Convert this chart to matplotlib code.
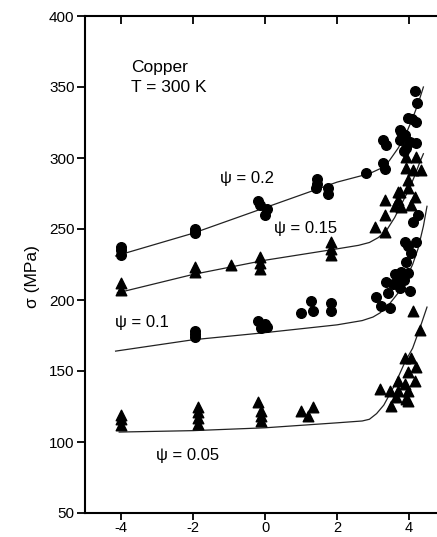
import numpy as np
import matplotlib
matplotlib.use('Agg')
import matplotlib.pyplot as plt

plt.rcParams['font.family'] = ['Liberation Sans', 'DejaVu Sans']
plt.rcParams['axes.unicode_minus'] = False

# ---- measured points (x = log strain rate axis, y = flow stress in MPa)
# psi = 0.2, circles
x_02 = [-4.0, -4.0, -4.0, -1.95, -1.95, -1.95, -0.2, -0.15, 0.05, 0.0,
        1.45, 1.45, 1.42, 1.75, 1.75, 2.8, 3.28, 3.32, 3.28, 3.36,
        3.74, 3.78, 3.88, 4.02, 4.2, 3.92, 3.85, 3.97, 4.2, 4.08, 4.22, 4.16, 3.75]
y_02 = [237, 235, 232, 250, 248, 247, 270, 267, 264, 260,
        285, 282, 279, 279, 275, 289.6, 296.6, 292.5, 312.8, 309,
        312.8, 318.6, 316, 311.6, 310.7, 307, 305, 328, 325.7, 327.5, 338.8, 347, 320]

# psi = 0.15, triangles
x_015 = [-4.0, -4.0, -1.95, -1.95, -0.94, -0.14, -0.14, -0.14, 1.83, 1.83, 1.83,
         3.05, 3.33, 3.33, 3.33, 3.7, 3.7, 3.75, 3.78, 3.6,
         3.92, 4.2, 3.92, 4.1, 4.33, 3.97, 3.97, 4.17, 4.06]
y_015 = [212, 207, 223.5, 220, 225, 230, 226, 222, 241, 236, 232,
         251.6, 248, 260, 270.7, 276, 270.6, 276, 265.7, 266,
         300.8, 300.8, 293, 291.7, 291.7, 284.6, 279, 272.7, 267]

# psi = 0.1, circles
x_01 = [-1.95, -1.95, -1.95, -0.2, 0.0, -0.1, 0.05,
        1.0, 1.28, 1.33, 1.83, 1.83,
        3.08, 3.22, 3.46, 3.42, 3.36, 3.56, 3.74, 4.02, 3.7, 3.78, 3.97,
        3.92, 4.06, 3.97, 3.88, 4.2, 4.11, 4.25, 3.85, 3.6]
y_01 = [178, 176, 174, 185, 183, 180, 181,
        191, 199, 192, 198, 192,
        202, 195.6, 194.6, 205, 213, 211, 208.7, 206, 215.7, 220, 219,
        227, 233, 238, 241, 241, 255, 260, 214, 218]

# psi = 0.05, triangles
x_005 = [-4.0, -4.0, -4.0, -1.86, -1.86, -1.86, -1.86, -0.2, -0.1, -0.1, -0.1,
         1.0, 1.33, 1.19,
         3.2, 3.46, 3.7, 3.97, 3.65, 3.92, 3.5, 3.97, 3.7, 4.16, 3.88,
         3.97, 4.2, 3.88, 4.06, 4.3, 4.11]
y_005 = [119, 116, 112, 125, 121, 117, 113, 128, 122, 118, 114.5,
         121.5, 124.3, 118,
         137, 135.8, 135.8, 135.8, 131.4, 130, 125.3, 128.8, 142.8, 142.8, 140.5,
         149.6, 152.5, 159.5, 159.5, 179, 192]

# ---- model curves
cx_02 = [-4.15, -2, 0, 1, 2, 2.6, 2.9, 3.2, 3.45, 3.7, 3.9, 4.1, 4.25, 4.4]
cy_02 = [231, 247, 265, 274, 283, 287, 289, 292.5, 298, 307, 316, 328, 338, 350]
cx_015 = [-4.1, -2, 0, 2, 2.6, 2.9, 3.15, 3.4, 3.6, 3.8, 4.0, 4.15, 4.3, 4.4]
cy_015 = [205, 218, 228, 236, 238.5, 240.5, 244, 250, 258, 268, 278, 287, 297, 303]
cx_01 = [-4.15, -2, 0, 2, 2.7, 3.0, 3.2, 3.45, 3.7, 3.9, 4.1, 4.25, 4.4, 4.5]
cy_01 = [164, 172, 177, 182.5, 185.5, 188, 191, 197, 205, 214, 225, 236, 252, 266]
cx_005 = [-4.05, -2, 0, 2, 2.7, 2.9, 3.1, 3.3, 3.6, 3.9, 4.1, 4.3, 4.5]
cy_005 = [107, 108, 110, 113.5, 114.8, 116, 120, 126, 140, 157, 166, 180, 195]

fig = plt.figure(figsize=(4.37, 5.37), dpi=100)
ax = fig.add_axes([85/437, 24/537, 360/437, 497/537])

for cx, cy in [(cx_02, cy_02), (cx_015, cy_015), (cx_01, cy_01), (cx_005, cy_005)]:
    ax.plot(cx, cy, color='#222222', lw=0.9)

ax.scatter(x_02, y_02, marker='o', s=48, color='black', zorder=3)
ax.scatter(x_01, y_01, marker='o', s=48, color='black', zorder=3)
ax.scatter(x_015, y_015, marker='^', s=58, color='black', zorder=3)
ax.scatter(x_005, y_005, marker='^', s=58, color='black', zorder=3)

ax.text(-3.72, 369, 'Copper\nT = 300 K', ha='left', va='top', fontsize=12.5, linespacing=1.4)
ax.text(-1.25, 285.5, '\u03c8 = 0.2', ha='left', va='center', fontsize=12)
ax.text(0.25, 250, '\u03c8 = 0.15', ha='left', va='center', fontsize=12)
ax.text(-4.17, 184, '\u03c8 = 0.1', ha='left', va='center', fontsize=12)
ax.text(-3.03, 90.5, '\u03c8 = 0.05', ha='left', va='center', fontsize=12)

ax.set_xlim(-5, 5)
ax.set_ylim(50, 400)
ax.set_xticks([-4, -2, 0, 2, 4])
ax.set_yticks([50, 100, 150, 200, 250, 300, 350, 400])
ax.set_ylabel('\u03c3 (MPa)', fontsize=12.5)
ax.yaxis.set_label_coords(-0.125, 0.475)

for s in ax.spines.values():
    s.set_linewidth(1.5)
ax.tick_params(axis='y', direction='out', length=5.5, width=1.3, labelsize=11, pad=2)
ax.tick_params(axis='x', direction='out', length=5, width=1.3, labelsize=10.5, pad=0.5, top=True)
# top ticks point into the plot
for t in ax.xaxis.get_major_ticks():
    t.tick2line.set_marker(matplotlib.lines.TICKDOWN)
    t.tick2line.set_markersize(5.5)

fig.savefig('out.png', dpi=100)
